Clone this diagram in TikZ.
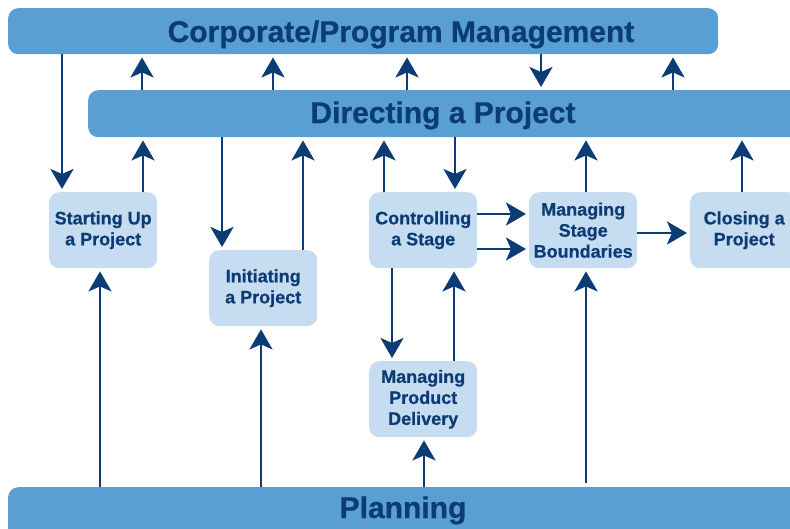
\documentclass[tikz,border=0pt]{standalone}
\usepackage{fontspec}
\setmainfont{Liberation Sans}[BoldFeatures={FakeBold=0.7}]
\usetikzlibrary{arrows.meta}
\definecolor{barblue}{HTML}{5A9FD4}
\definecolor{boxblue}{HTML}{C6DCF0}
\definecolor{navy}{HTML}{0C3C76}
\begin{document}
\begin{tikzpicture}[x=1pt,y=-1pt,
  bar/.style={fill=barblue, rounded corners=10pt, draw=none, inner sep=0pt, anchor=north west},
  proc/.style={fill=boxblue, rounded corners=10pt, minimum width=108pt, minimum height=76pt, inner sep=0pt, anchor=north west, align=center, text=navy, font=\bfseries\fontsize{18}{21}\selectfont},
  bartext/.style={text=navy, font=\bfseries\fontsize{30}{36}\selectfont, anchor=base, inner sep=0pt},
  arr/.style={draw=navy, line width=2.8pt, -{Stealth[length=20pt,width=23pt,inset=5pt]}, shorten >=3pt}
]
\useasboundingbox (0,0) rectangle (790,528);
\clip (0,0) rectangle (790,528);

% bars
\node[bar, minimum width=710pt, minimum height=46pt] (corp) at (8,8) {};
\node[bar, minimum width=742pt, minimum height=47pt] (dir) at (88,90) {};
\node[bar, minimum width=822pt, minimum height=80pt] (plan) at (8,487) {};
\node[bartext] (corpT) at (401,42) {Corporate/Program Management};
\node[bartext] (dirT) at (443,123) {Directing a Project};
\node[bartext] (planT) at (403,518) {Planning};

% process boxes
\node[proc] (st) at (49,192) {Starting Up\\a Project};
\node[proc] (init) at (209,250) {Initiating\\a Project};
\node[proc] (cs) at (369,192) {Controlling\\a Stage};
\node[proc] (msb) at (529,192) {Managing\\Stage\\Boundaries};
\node[proc] (cl) at (690,192) {Closing a\\Project};
\node[proc] (mpd) at (369,361) {Managing\\Product\\Delivery};

% helper coordinates
\foreach \v in {62,100,142,143,222,261,273,303,384,392,407,424,454,455,541,586,673,742}
  \coordinate (x\v) at (\v,0);
\foreach \v in {214,233,249}
  \coordinate (y\v) at (0,\v);

% corporate <-> directing
\draw[arr] (x62 |- corp.south) -- (x62 |- st.north);
\foreach \v in {142,273,407,673}
  \draw[arr] (x\v |- dir.north) -- (x\v |- corp.south);
\draw[arr] (x541 |- corp.south) -- (x541 |- dir.north);

% processes <-> directing
\draw[arr] (x143 |- st.north) -- (x143 |- dir.south);
\draw[arr] (x222 |- dir.south) -- (x222 |- init.north);
\draw[arr] (x303 |- init.north) -- (x303 |- dir.south);
\draw[arr] (x384 |- cs.north) -- (x384 |- dir.south);
\draw[arr] (x455 |- dir.south) -- (x455 |- cs.north);
\draw[arr] (x586 |- msb.north) -- (x586 |- dir.south);
\draw[arr] (x742 |- cl.north) -- (x742 |- dir.south);

% horizontal flows
\draw[arr] (cs.east |- y214) -- (msb.west |- y214);
\draw[arr] (cs.east |- y249) -- (msb.west |- y249);
\draw[arr] (msb.east |- y233) -- (cl.west |- y233);

% controlling <-> product delivery
\draw[arr] (x392 |- cs.south) -- (x392 |- mpd.north);
\draw[arr] (x454 |- mpd.north) -- (x454 |- cs.south);

% planning up
\draw[arr] (x100 |- plan.north) -- (x100 |- st.south);
\draw[arr] (x261 |- plan.north) -- (x261 |- init.south);
\draw[arr] (x424 |- plan.north) -- (x424 |- mpd.south);
\draw[arr, shorten <=4pt] (x586 |- plan.north) -- (x586 |- msb.south);
\end{tikzpicture}
\end{document}
